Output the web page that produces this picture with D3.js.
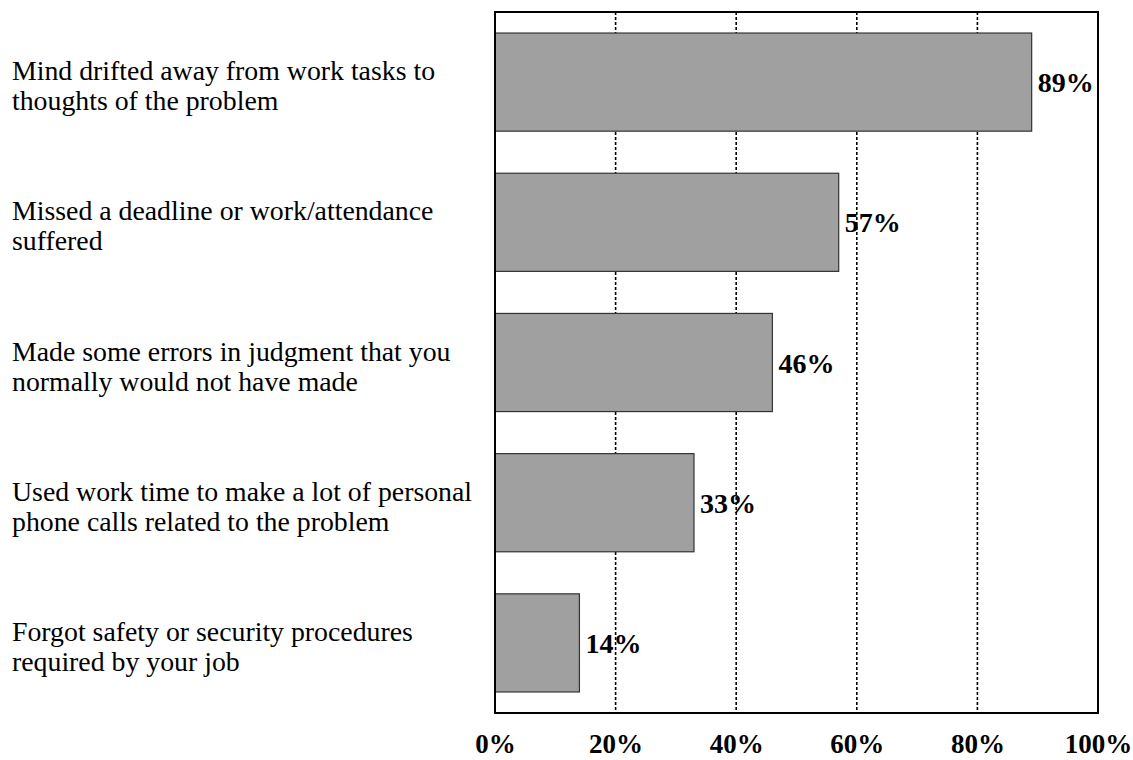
<!DOCTYPE html>
<html>
<head>
<meta charset="utf-8">
<script src="https://cdn.jsdelivr.net/npm/d3@7/dist/d3.min.js"></script>
<style>
  html, body { margin: 0; padding: 0; background: #fff; }
  svg { display: block; }
  text { font-family: "Liberation Serif", "Times New Roman", serif; fill: #000; }
</style>
</head>
<body>
<svg id="chart" width="1133" height="760"></svg>
<script>
const categories = [
  ["Mind drifted away from work tasks to", "thoughts of the problem"],
  ["Missed a deadline or work/attendance", "suffered"],
  ["Made some errors in judgment that you", "normally would not have made"],
  ["Used work time to make a lot of personal", "phone calls related to the problem"],
  ["Forgot safety or security procedures", "required by your job"]
];
const values = [89, 57, 46, 33, 14];
const tickValues = [0, 20, 40, 60, 80, 100];
const tickLabels = ["0%", "20%", "40%", "60%", "80%", "100%"];

const svg = d3.select("#chart");
const margin = { left: 495, right: 1098, top: 12, bottom: 713 };

const x = d3.scaleLinear().domain([0, 100]).range([margin.left, margin.right]);
const y = d3.scaleBand()
  .domain(d3.range(values.length))
  .range([margin.top, margin.bottom])
  .paddingInner(0.3)
  .paddingOuter(0.15);

// value labels (drawn beneath gridlines, as in the reference)
svg.append("g").selectAll("text")
  .data(values)
  .join("text")
  .attr("x", d => x(d) + 6)
  .attr("y", (d, i) => y(i) + y.bandwidth() / 2 + 10)
  .attr("font-size", 28)
  .attr("font-weight", "bold")
  .text(d => d + "%");

// gridlines
svg.append("g").selectAll("line")
  .data(tickValues.filter(t => t > 0 && t < 100))
  .join("line")
  .attr("x1", d => x(d)).attr("x2", d => x(d))
  .attr("y1", margin.top).attr("y2", margin.bottom)
  .attr("stroke", "#000")
  .attr("stroke-width", 1.6)
  .attr("stroke-dasharray", "3,2");

// bars
svg.append("g").selectAll("rect")
  .data(values)
  .join("rect")
  .attr("x", x(0))
  .attr("y", (d, i) => y(i))
  .attr("width", d => x(d) - x(0))
  .attr("height", y.bandwidth())
  .attr("fill", "#a0a0a0")
  .attr("stroke", "#333")
  .attr("stroke-width", 1.2);

// frame
svg.append("rect")
  .attr("x", margin.left).attr("y", margin.top)
  .attr("width", margin.right - margin.left)
  .attr("height", margin.bottom - margin.top)
  .attr("fill", "none")
  .attr("stroke", "#000")
  .attr("stroke-width", 2);

// x axis tick labels
const xAxis = d3.axisBottom(x)
  .tickValues(tickValues)
  .tickFormat((d, i) => tickLabels[i])
  .tickSize(0)
  .tickPadding(0);
const gx = svg.append("g")
  .attr("transform", `translate(0,${margin.bottom})`)
  .call(xAxis);
gx.select(".domain").remove();
gx.selectAll("text")
  .attr("font-family", '"Liberation Serif", "Times New Roman", serif')
  .attr("font-size", 27)
  .attr("font-weight", "bold")
  .attr("fill", "#000")
  .attr("dy", null)
  .attr("y", 40);

// category labels
const lab = svg.append("g").selectAll("text")
  .data(categories)
  .join("text")
  .attr("font-size", 27.8)
  .attr("y", (d, i) => y(i) + y.bandwidth() / 2 - 2);
lab.selectAll("tspan")
  .data(d => d)
  .join("tspan")
  .attr("x", 12)
  .attr("dy", (d, j) => j === 0 ? 0 : 30)
  .text(d => d);
</script>
</body>
</html>
